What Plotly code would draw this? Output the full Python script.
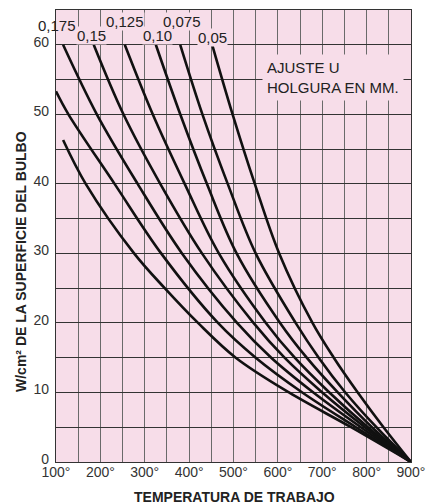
import plotly.graph_objects as go

# ---- data ----
gap_labels = ["0,05", "0,075", "0,10", "0,125", "0,15", "0,175", "0,20", "0,225"]

watt_std = [60, 50, 40, 30, 20, 15, 10, 5, 0]
temp_005 = [452, 498, 548, 603, 678, 726, 780, 838, 900]
temp_0075 = [380, 430, 487, 550, 640, 692, 752, 822, 900]
temp_010 = [325, 380, 440, 507, 605, 665, 735, 812, 900]
temp_0125 = [255, 318, 390, 467, 573, 638, 716, 803, 900]
temp_015 = [185, 252, 335, 429, 545, 615, 700, 796, 900]
temp_0175 = [116, 192, 284, 384, 508, 585, 680, 787, 900]
watt_020 = [53.3, 50, 40, 30, 20, 15, 10, 5, 0]
temp_020 = [100, 128, 232, 337, 465, 550, 655, 776, 900]
watt_0225 = [46.3, 40, 30, 25, 20, 15, 10, 5, 0]
temp_0225 = [116, 167, 276, 345, 420, 505, 625, 765, 900]

x_tickvals = [100, 150, 200, 250, 300, 350, 400, 450, 500, 550, 600, 650, 700, 750, 800, 850, 900]
x_ticktext = ["100°", "", "200°", "", "300°", "", "400°", "", "500°", "", "600°", "", "700°", "", "800°", "", "900°"]
y_tickvals = [0, 5, 10, 15, 20, 25, 30, 35, 40, 45, 50, 55, 60]
y_ticktext = ["0", "", "10", "", "20", "", "30", "", "40", "", "50", "", "60"]

series = [
    (gap_labels[0], temp_005, watt_std),
    (gap_labels[1], temp_0075, watt_std),
    (gap_labels[2], temp_010, watt_std),
    (gap_labels[3], temp_0125, watt_std),
    (gap_labels[4], temp_015, watt_std),
    (gap_labels[5], temp_0175, watt_std),
    (gap_labels[6], temp_020, watt_020),
    (gap_labels[7], temp_0225, watt_0225),
]

PINK = "#f7dde9"
FONT = "Liberation Sans, Arial, sans-serif"

fig = go.Figure()
for name, t, w in series:
    fig.add_trace(go.Scatter(
        x=t, y=w, mode="lines", name=name,
        line=dict(color="#111111", width=2.6, shape="spline", smoothing=1.0),
        hoverinfo="skip", showlegend=False, cliponaxis=True,
    ))

# curve labels (positions in data units)
label_pos = {
    "0,175": (102, 62.8, None),
    "0,15": (181, 61.4, PINK),
    "0,125": (255, 63.4, PINK),
    "0,10": (328, 61.4, PINK),
    "0,075": (384, 63.4, PINK),
    "0,05": (452, 61.1, PINK),
    "0,20": (95, 56.1, None),
    "0,225": (93, 47.3, None),
}
for txt, (lx, ly, bg) in label_pos.items():
    fig.add_annotation(
        x=lx, y=ly, text=txt, showarrow=False, xref="x", yref="y",
        xanchor="center", yanchor="middle",
        font=dict(family=FONT, size=15, color="#222222"),
        bgcolor=bg if bg else "rgba(0,0,0,0)", borderpad=0,
    )

fig.add_annotation(
    x=564, y=55.3, xref="x", yref="y", xanchor="left", yanchor="middle",
    text="AJUSTE U<br>HOLGURA EN MM.", showarrow=False, align="left",
    font=dict(family=FONT, size=15, color="#222222"),
    bgcolor=PINK, borderpad=4,
)

W, H = 427, 504
ML, MR, MT, MB = 56, 16, 10, 42

# axis titles (positions given in page pixels)
titles = [
    (234, 497, "<b>TEMPERATURA DE TRABAJO</b>", 0),
    (21, 262, "<b>W/cm² DE LA SUPERFICIE DEL BULBO</b>", -90),
]
for px, py, txt, ang in titles:
    fig.add_annotation(
        x=(px - ML) / (W - ML - MR), y=1 - (py - MT) / (H - MT - MB),
        xref="paper", yref="paper", xanchor="center", yanchor="middle",
        text=txt, showarrow=False, textangle=ang,
        font=dict(family=FONT, size=14, color="#222222"),
    )

fig.update_layout(
    width=W, height=H,
    margin=dict(l=ML, r=MR, t=MT, b=MB, pad=0),
    paper_bgcolor="white", plot_bgcolor=PINK,
    font=dict(family=FONT, size=14, color="#333333"),
    xaxis=dict(
        range=[100, 900], tickvals=x_tickvals, ticktext=x_ticktext,
        showgrid=True, gridcolor="#6a6a6a", gridwidth=1,
        showline=True, linecolor="#333333", linewidth=1.2, mirror=True,
        ticks="", zeroline=False, tickfont=dict(size=14, color="#333333"),
        ticklabelstandoff=-3, ticklabeloverflow="allow", automargin=False,
    ),
    yaxis=dict(
        range=[0, 65], tickvals=y_tickvals, ticktext=y_ticktext,
        showgrid=True, gridcolor="#333333", gridwidth=1.2,
        showline=True, linecolor="#333333", linewidth=1.2, mirror=True,
        ticks="", zeroline=False, tickfont=dict(size=14, color="#333333"),
        ticklabelshift=-3, ticklabelstandoff=3, automargin=False,
    ),
)

fig.write_html(
    "out.html",
    config={"displayModeBar": False},
    post_script="document.body.style.margin='0px';",
)
